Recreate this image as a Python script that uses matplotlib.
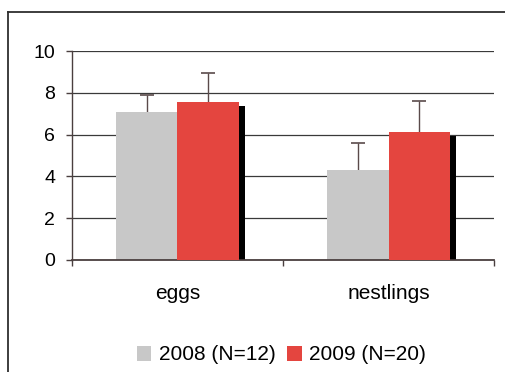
import matplotlib
matplotlib.use("Agg")
import matplotlib.pyplot as plt
from matplotlib.lines import Line2D
from matplotlib.transforms import offset_copy
import numpy as np

plt.rcParams['font.family'] = ['Liberation Sans', 'DejaVu Sans']

categories = ["eggs", "nestlings"]
series_names = ["2008 (N=12)", "2009 (N=20)"]
values_2008 = [7.08, 4.30]
errors_2008 = [0.83, 1.31]
values_2009 = [7.56, 6.11]
errors_2009 = [1.41, 1.51]
yticks = [0, 2, 4, 6, 8, 10]

color_2008 = "#c8c8c8"
color_2009 = "#e4453f"
err_color = "#5a4a4a"

W, H = 505, 372
fig = plt.figure(figsize=(W / 100, H / 100), dpi=100)
ax = fig.add_axes([71.7 / W, 1 - 260 / H, (494.3 - 71.7) / W, (260 - 51) / H])

x = np.arange(len(categories))
bw = 0.29

gridc = "#3a3a3a"
ax.set_axisbelow(True)
ax.yaxis.grid(True, color=gridc, linewidth=0.9)


def up_errorbar(xs, vals, errs):
    _, caps, _ = ax.errorbar(xs, vals, yerr=[np.zeros(len(xs)), errs], fmt='none',
                             ecolor=err_color, elinewidth=1.0, capsize=5, capthick=1.2, zorder=1)
    caps[0].set_visible(False)


ax.bar(x - bw / 2, values_2008, bw, color=color_2008, zorder=2, label=series_names[0])
up_errorbar(x - bw / 2, values_2008, errors_2008)

shadow_tr = offset_copy(ax.transData, fig=fig, x=6, y=-3.8, units='dots')
ax.bar(x + bw / 2, values_2009, bw, color='black', zorder=2.5, transform=shadow_tr)
ax.bar(x + bw / 2, values_2009, bw, color=color_2009, zorder=3, label=series_names[1])
up_errorbar(x + bw / 2, values_2009, errors_2009)

ax.set_xlim(-0.5, len(categories) - 0.5)
ax.set_ylim(0, 10)
ax.set_yticks(yticks)
ax.set_yticklabels([str(t) for t in yticks], fontsize=14)
ax.set_xticks(x)
ax.set_xticklabels(categories, fontsize=15)
ax.set_xticks(np.arange(-0.5, len(categories)), minor=True)
ax.tick_params(axis='x', which='major', length=0, pad=17)
ax.tick_params(axis='x', which='minor', length=4.5, direction='out', color="#4a3f3f", width=1.0)
ax.tick_params(axis='y', length=4.5, direction='out', color="#4a3f3f", width=1.0, pad=7.5)

for s in ['top', 'right']:
    ax.spines[s].set_visible(False)
ax.spines['left'].set_color("#4a3f3f")
ax.spines['left'].set_linewidth(1.0)
ax.spines['bottom'].set_color("#4a3f3f")
ax.spines['bottom'].set_linewidth(1.3)

leg = fig.legend(loc='center', bbox_to_anchor=(281.3 / W, 1 - 355 / H), ncol=2, frameon=False,
                 fontsize=15, handlelength=0.7, handleheight=0.7, handletextpad=0.35,
                 columnspacing=0.55)

# outer chart border
fig.add_artist(Line2D([8 / W, 8 / W], [0, 1 - 12 / H], color="#2e2e2e", linewidth=1.3,
                      transform=fig.transFigure))
fig.add_artist(Line2D([8 / W, 1], [1 - 12 / H, 1 - 12 / H], color="#2e2e2e", linewidth=1.3,
                      transform=fig.transFigure))

fig.savefig("out.png", dpi=100)
